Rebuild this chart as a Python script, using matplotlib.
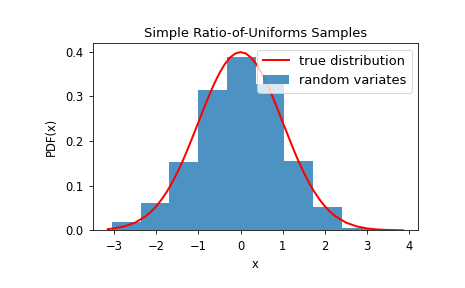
import numpy as np
import matplotlib
matplotlib.use('Agg')
import matplotlib.pyplot as plt
from matplotlib.ticker import MultipleLocator

# histogram of the samples (density), 10 bins
bin_edges = [-3.05, -2.369, -1.688, -1.007, -0.326, 0.355, 1.036, 1.717, 2.398, 3.079, 3.76]
densities = [0.018, 0.061, 0.153, 0.315, 0.388, 0.328, 0.155, 0.0525, 0.005, 0.0015]

# true distribution
curve_x = [-3.15, -3.0, -2.75, -2.5, -2.25, -2.125, -2.0, -1.875, -1.75, -1.625,
           -1.5, -1.375, -1.25, -1.125, -1.0, -0.875, -0.75, -0.625, -0.5, -0.375,
           -0.25, -0.125, 0.0, 0.125, 0.25, 0.375, 0.5, 0.625, 0.75, 0.875,
           1.0, 1.125, 1.25, 1.375, 1.5, 1.625, 1.75, 1.875, 2.0, 2.125,
           2.25, 2.5, 2.75, 3.0, 3.25, 3.5, 3.86]
curve_y = [0.0028, 0.0044, 0.0091, 0.0175, 0.0317, 0.0417, 0.0540, 0.0689, 0.0863, 0.1065,
           0.1295, 0.1548, 0.1826, 0.2122, 0.2420, 0.2721, 0.3011, 0.3282, 0.3521, 0.3719,
           0.3867, 0.3958, 0.3989, 0.3958, 0.3867, 0.3719, 0.3521, 0.3282, 0.3011, 0.2721,
           0.2420, 0.2122, 0.1826, 0.1548, 0.1295, 0.1065, 0.0863, 0.0689, 0.0540, 0.0417,
           0.0317, 0.0175, 0.0091, 0.0044, 0.0020, 0.0009, 0.0002]

fig, ax = plt.subplots(figsize=(465 / 72, 288 / 72), dpi=72)
fig.subplots_adjust(left=0.2, right=0.899, bottom=0.2, top=0.85)

ax.plot(curve_x, curve_y, 'r-', lw=2, label='true distribution')
ax.hist(bin_edges[:-1], bins=bin_edges, weights=densities, alpha=0.8,
        label='random variates')
ax.set_title('Simple Ratio-of-Uniforms Samples', fontsize=13)
ax.set_xlabel('x', fontsize=11.5, labelpad=5)
ax.set_ylabel('PDF(x)', fontsize=11.5, labelpad=7)
ax.yaxis.set_major_locator(MultipleLocator(0.1))
ax.tick_params(labelsize=11.5, pad=6, length=4)
ax.legend(loc='upper right', fontsize=13)

fig.savefig('out.png', dpi=72)
